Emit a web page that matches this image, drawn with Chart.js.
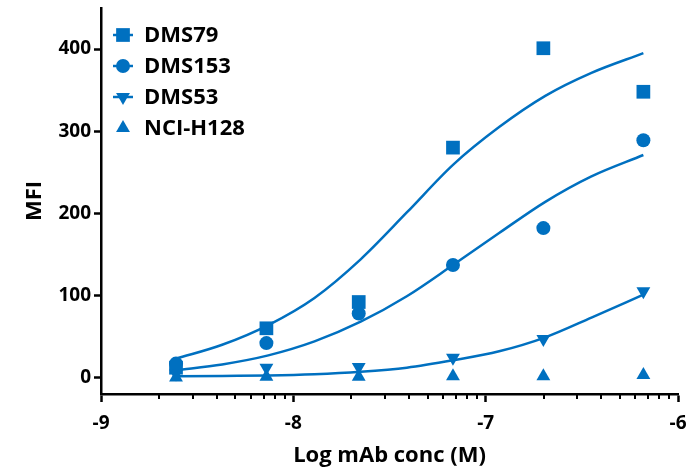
<!DOCTYPE html>
<html lang="en">
<head>
    <meta charset="UTF-8">
    <title>MFI vs mAb conc</title>
    <script src="https://cdn.jsdelivr.net/npm/chart.js@4.4.1/dist/chart.umd.min.js"></script>
    <style>
        body { margin: 0; background: #fff; }
    </style>
</head>
<body>
    <canvas id="chart-mfi" width="697" height="471"></canvas>

    <script>
        // measured points (log M)
        var doseX = [-8.61, -8.14, -7.66, -7.17, -6.70, -6.18];
        var dms79 = [12, 60, 92, 280, 401, 348];
        var dms153 = [17, 42, 78, 137, 182, 289];
        var dms53 = [5, 12, 13, 24, 47, 105];
        var nciH128 = [0, 1, 1, 1.5, 1.5, 3];

        // fitted curves
        var curveX = [-8.61, -8.37, -8.13, -7.89, -7.65, -7.41, -7.17, -6.93, -6.69, -6.45, -6.18];
        var fit79 = [23, 40, 64, 97, 144, 201, 259, 305, 343, 371, 395];
        var fit153 = [9, 16, 27, 44, 68, 99, 137, 176, 214, 245, 271];
        var fit53 = [1.5, 2, 2.5, 4, 7, 12, 21, 32, 49, 73, 101];

        var xTicks = [-9, -8, -7, -6];
        var yTicks = [0, 100, 200, 300, 400];

        var blue = 'rgb(0, 112, 192)';
        var fontFam = '"Open Sans", Lato, sans-serif';
        var tickFont = { family: fontFam, size: 19, weight: 'bold' };
        var labelFont = { family: fontFam, size: 22, weight: 'bold' };

        function pts(xs, ys) {
            return xs.map(function (x, i) { return { x: x, y: ys[i] }; });
        }

        var series = [
            { label: 'DMS79', data: dms79, fit: fit79, style: 'rect', r: 9.7 },
            { label: 'DMS153', data: dms153, fit: fit153, style: 'circle', r: 7 },
            { label: 'DMS53', data: dms53, fit: fit53, style: 'down', r: 8 },
            { label: 'NCI-H128', data: nciH128, fit: null, style: 'triangle', r: 8 }
        ];

        function drawMarker(ctx, style, x, y, r) {
            ctx.save();
            ctx.fillStyle = blue;
            ctx.beginPath();
            if (style === 'rect') {
                var s = Math.SQRT1_2 * r;
                ctx.rect(x - s, y - s, 2 * s, 2 * s);
            } else if (style === 'circle') {
                ctx.arc(x, y, r, 0, Math.PI * 2);
            } else {
                var sgn = style === 'down' ? -1 : 1;
                var a = 0;
                for (var k = 0; k < 3; k++) {
                    var px = x + Math.sin(a) * r;
                    var py = y - sgn * Math.cos(a) * r;
                    if (k === 0) ctx.moveTo(px, py); else ctx.lineTo(px, py);
                    a += Math.PI * 2 / 3;
                }
                ctx.closePath();
            }
            ctx.fill();
            ctx.restore();
        }

        var datasets = [];
        series.forEach(function (s) {
            datasets.push({
                label: s.label,
                type: 'scatter',
                data: pts(doseX, s.data),
                pointStyle: false,
                pointRadius: 0,
                showLine: false,
                markerStyle: s.style,
                markerR: s.r,
                order: 0
            });
            if (s.fit) {
                datasets.push({
                    label: s.label + ' fit',
                    type: 'line',
                    data: pts(curveX, s.fit),
                    borderColor: blue,
                    borderWidth: 2.5,
                    pointRadius: 0,
                    cubicInterpolationMode: 'monotone',
                    fill: false,
                    order: 1
                });
            }
        });

        // markers, minor log ticks and the legend
        var decor = {
            id: 'decor',
            afterDatasetsDraw: function (chart) {
                var ctx = chart.ctx;
                chart.data.datasets.forEach(function (ds, i) {
                    if (!ds.markerStyle) return;
                    var meta = chart.getDatasetMeta(i);
                    meta.data.forEach(function (el) {
                        drawMarker(ctx, ds.markerStyle, el.x, el.y, ds.markerR);
                    });
                });
            },
            afterDraw: function (chart) {
                var ctx = chart.ctx;
                var xs = chart.scales.x;
                var bottom = chart.chartArea.bottom;
                ctx.save();
                ctx.strokeStyle = '#000';
                ctx.lineWidth = 2;
                for (var d = -9; d < -6; d++) {
                    for (var k = 2; k <= 9; k++) {
                        var px = Math.round(xs.getPixelForValue(d + Math.log10(k)));
                        ctx.beginPath();
                        ctx.moveTo(px, bottom);
                        ctx.lineTo(px, bottom + 5);
                        ctx.stroke();
                    }
                }
                ctx.restore();

                // legend
                ctx.save();
                ctx.font = 'bold ' + labelFont.size + 'px ' + fontFam;
                ctx.textBaseline = 'middle';
                series.forEach(function (s, i) {
                    var y = 35 + i * 31;
                    if (s.fit) {
                        ctx.strokeStyle = blue;
                        ctx.lineWidth = 2.5;
                        ctx.beginPath();
                        ctx.moveTo(113, y);
                        ctx.lineTo(133, y);
                        ctx.stroke();
                    }
                    drawMarker(ctx, s.style, 123, y, s.r);
                    ctx.fillStyle = '#000';
                    ctx.fillText(s.label, 144, y + 1);
                });
                ctx.restore();
            }
        };

        var ctx = document.getElementById('chart-mfi').getContext('2d');
        var chart = new Chart(ctx, {
            type: 'scatter',
            data: { datasets: datasets },
            options: {
                responsive: false,
                animation: false,
                layout: { padding: { top: 8, right: 19, left: 0, bottom: 0 } },
                plugins: {
                    legend: { display: false },
                    tooltip: { enabled: false }
                },
                scales: {
                    x: {
                        type: 'linear',
                        min: -9,
                        max: -6,
                        afterBuildTicks: function (scale) {
                            scale.ticks = xTicks.map(function (v) { return { value: v }; });
                        },
                        afterFit: function (scale) { scale.height = 77; },
                        border: { display: true, color: '#000', width: 2.5 },
                        grid: {
                            drawOnChartArea: false,
                            drawTicks: true,
                            tickLength: 8,
                            tickColor: '#000',
                            tickWidth: 2.5
                        },
                        ticks: {
                            color: '#000',
                            padding: 10,
                            maxRotation: 0,
                            font: tickFont
                        },
                        title: {
                            display: true,
                            text: 'Log mAb conc (M)',
                            color: '#000',
                            padding: { top: 0, bottom: 2 },
                            font: labelFont
                        }
                    },
                    y: {
                        type: 'linear',
                        min: -20,
                        max: 450,
                        afterBuildTicks: function (scale) {
                            scale.ticks = yTicks.map(function (v) { return { value: v }; });
                        },
                        afterFit: function (scale) {
                            scale.width = 101;
                            scale.paddingTop = 0;
                            scale.paddingBottom = 0;
                        },
                        border: { display: true, color: '#000', width: 2.5 },
                        grid: {
                            drawOnChartArea: false,
                            drawTicks: true,
                            tickLength: 7,
                            tickColor: '#000',
                            tickWidth: 2.5
                        },
                        ticks: {
                            color: '#000',
                            padding: 3,
                            font: tickFont
                        },
                        title: {
                            display: true,
                            text: 'MFI',
                            color: '#000',
                            padding: { top: 22, bottom: 0 },
                            font: labelFont
                        }
                    }
                }
            },
            plugins: [decor]
        });
    </script>
</body>
</html>
